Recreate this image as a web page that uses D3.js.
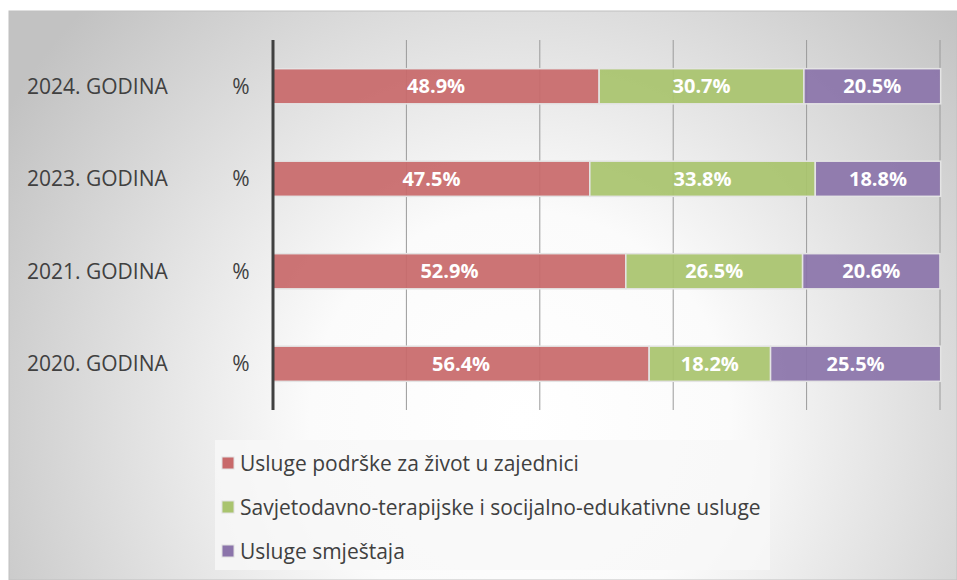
<!DOCTYPE html>
<meta charset="utf-8">
<html>
<head>
  <script src="https://d3js.org/d3.v7.min.js"></script>
  <style>
    body { margin: 0; background: #fff; }
    text { font-family: "Open Sans", sans-serif; }
  </style>
</head>
<body>
  <div id="chart"></div>
<script>
  // data
  var years = ["2024. GODINA", "2023. GODINA", "2021. GODINA", "2020. GODINA"];
  var seriesNames = ["Usluge podrške za život u zajednici",
    "Savjetodavno-terapijske i socijalno-edukativne usluge",
    "Usluge smještaja"];
  var podrska = [48.9, 47.5, 52.9, 56.4];
  var savjetodavno = [30.7, 33.8, 26.5, 18.2];
  var smjestaj = [20.5, 18.8, 20.6, 25.5];
  var colors = ["#c8696a", "#a9c46e", "#8b74aa"];
  var gridTicks = [0, 20, 40, 60, 80, 100];

  var W = 957, H = 580;
  var svg = d3.select("#chart").append("svg")
    .attr("width", W).attr("height", H);

  var defs = svg.append("defs");
  var grad = defs.append("radialGradient")
    .attr("id", "bg").attr("gradientUnits", "userSpaceOnUse")
    .attr("cx", 520).attr("cy", 420).attr("r", 600);
  grad.append("stop").attr("offset", "0%").attr("stop-color", "#ffffff");
  grad.append("stop").attr("offset", "35%").attr("stop-color", "#fbfbfb");
  grad.append("stop").attr("offset", "100%").attr("stop-color", "#c2c2c2");

  svg.append("rect")
    .attr("x", 9).attr("y", 11).attr("width", W - 9).attr("height", H - 11)
    .attr("fill", "url(#bg)")
    .attr("stroke", "#c0c0c0").attr("stroke-width", 1);

  var x = d3.scaleLinear().domain([0, 100]).range([273, 940]);
  var y = d3.scaleBand().domain(years).range([40, 410])
    .paddingInner(0.62).paddingOuter(0.31);

  // gridlines
  svg.append("g").selectAll("line")
    .data(gridTicks.slice(1))
    .enter().append("line")
    .attr("x1", function (d) { return x(d); })
    .attr("x2", function (d) { return x(d); })
    .attr("y1", 40).attr("y2", 410)
    .attr("stroke", "#9a9a9a").attr("stroke-width", 1);

  // stacked bars
  var rows = years.map(function (yr, i) {
    return { year: yr, v: [podrska[i], savjetodavno[i], smjestaj[i]] };
  });
  var stack = d3.stack().keys([0, 1, 2]).value(function (d, k) { return d.v[k]; });
  var layers = stack(rows);

  var layerG = svg.append("g").selectAll("g")
    .data(layers)
    .enter().append("g");

  layerG.selectAll("rect")
    .data(function (d) { return d.map(function (p) { return { p: p, k: d.key }; }); })
    .enter().append("rect")
    .attr("x", function (d) { return x(d.p[0]); })
    .attr("y", function (d) { return y(d.p.data.year); })
    .attr("width", function (d) { return x(d.p[1]) - x(d.p[0]); })
    .attr("height", y.bandwidth())
    .attr("fill", function (d) { return colors[d.k]; })
    .attr("fill-opacity", 0.93)
    .attr("stroke", "#e4e4e4").attr("stroke-width", 1.5);

  layerG.selectAll("text")
    .data(function (d) { return d.map(function (p) { return { p: p, k: d.key }; }); })
    .enter().append("text")
    .attr("x", function (d) { return (x(d.p[0]) + x(d.p[1])) / 2; })
    .attr("y", function (d) { return y(d.p.data.year) + y.bandwidth() / 2; })
    .attr("dy", "0.36em")
    .attr("text-anchor", "middle")
    .attr("fill", "#ffffff")
    .attr("font-weight", "bold")
    .attr("font-size", 20)
    .text(function (d) { return d.p.data.v[d.k].toFixed(1) + "%"; });

  // axis line
  svg.append("line")
    .attr("x1", x(0)).attr("x2", x(0)).attr("y1", 40).attr("y2", 410)
    .attr("stroke", "#404040").attr("stroke-width", 3);

  // category labels
  var lab = svg.append("g").selectAll("g")
    .data(years).enter().append("g")
    .attr("transform", function (d) { return "translate(0," + (y(d) + y.bandwidth() / 2) + ")"; });
  lab.append("text")
    .attr("x", 27).attr("dy", "0.36em")
    .attr("font-size", 21).attr("fill", "#404040")
    .text(function (d) { return d; });
  lab.append("text")
    .attr("x", 241).attr("dy", "0.36em").attr("text-anchor", "middle")
    .attr("font-size", 21).attr("fill", "#404040")
    .text("%");

  // legend
  svg.append("rect")
    .attr("x", 215).attr("y", 440).attr("width", 555).attr("height", 130)
    .attr("fill", "#f7f7f7").attr("fill-opacity", 0.8);
  var leg = svg.append("g").selectAll("g")
    .data(seriesNames).enter().append("g")
    .attr("transform", function (d, i) { return "translate(222," + (463 + i * 44) + ")"; });
  leg.append("rect")
    .attr("x", 0).attr("y", -6).attr("width", 12).attr("height", 12)
    .attr("fill", function (d, i) { return colors[i]; })
    .attr("stroke", "#e0e0e0").attr("stroke-width", 1);
  leg.append("text")
    .attr("x", 18).attr("dy", "0.36em")
    .attr("font-size", 21).attr("fill", "#404040")
    .text(function (d) { return d; });
</script>
</body>
</html>
